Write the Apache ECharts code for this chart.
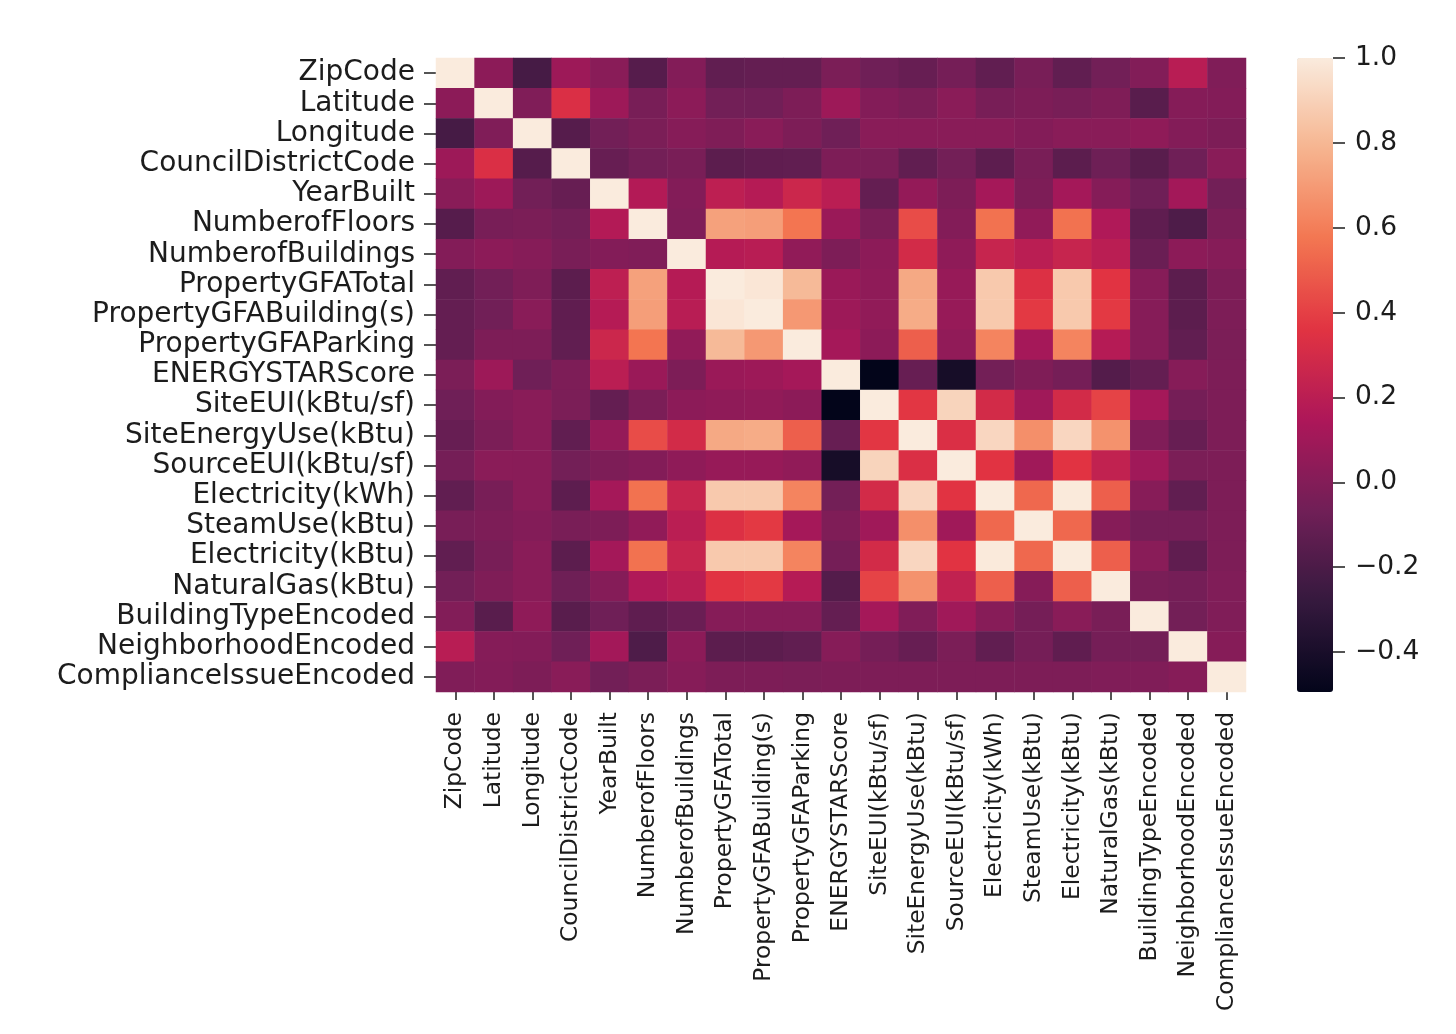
<!DOCTYPE html>
<html>
<head>
<meta charset="utf-8">
<style>html,body{margin:0;padding:0;background:#fff}#c{width:1456px;height:1034px}</style>
<script src="https://cdn.jsdelivr.net/npm/echarts@6/dist/echarts.min.js"></script>
</head>
<body>
<div id="c"></div>
<script>
const labels = ["ZipCode","Latitude","Longitude","CouncilDistrictCode","YearBuilt","NumberofFloors","NumberofBuildings","PropertyGFATotal","PropertyGFABuilding(s)","PropertyGFAParking","ENERGYSTARScore","SiteEUI(kBtu/sf)","SiteEnergyUse(kBtu)","SourceEUI(kBtu/sf)","Electricity(kWh)","SteamUse(kBtu)","Electricity(kBtu)","NaturalGas(kBtu)","BuildingTypeEncoded","NeighborhoodEncoded","ComplianceIssueEncoded"];
// Upper triangle of the correlation matrix, each row starts at the diagonal.
const row00 = [1,.03,-.22,.09,.02,-.16,0,-.12,-.11,-.11,-.03,-.07,-.10,-.05,-.12,-.04,-.12,-.06,-.005,.19,-.01];
const row01 = [1,-.01,.33,.09,-.04,.03,-.06,-.065,-.02,.09,0,-.03,.025,-.04,-.02,-.04,-.015,-.15,.005,0];
const row02 = [1,-.16,-.06,-.03,.01,-.015,.02,-.02,-.07,.02,.02,.02,.02,0,.02,.02,.04,0,-.02];
const row03 = [1,-.1,-.055,-.035,-.14,-.125,-.12,-.02,-.03,-.12,-.055,-.135,-.035,-.14,-.075,-.15,-.07,.02];
const row04 = [1,.17,0,.21,.18,.27,.2,-.11,.06,-.02,.12,-.02,.115,.005,-.07,.11,-.06];
const row05 = [1,-.01,.72,.71,.57,.08,-.03,.44,0,.56,.05,.56,.16,-.13,-.19,-.03];
const row06 = [1,.18,.19,.05,-.02,.03,.3,.04,.25,.2,.25,.2,-.09,.03,.01];
const row07 = [1,.98,.81,.08,.04,.75,.07,.87,.34,.87,.36,.01,-.14,-.02];
const row08 = [1,.69,.09,.05,.76,.07,.87,.38,.87,.38,.01,-.14,-.02];
const row09 = [1,.12,.03,.5,.05,.62,.12,.62,.18,.01,-.12,-.03];
const row10 = [1,-.494,-.1,-.41,-.055,-.015,-.05,-.17,-.11,.01,-.02];
const row11 = [1,.37,.91,.3,.1,.3,.41,.12,-.05,-.02];
const row12 = [1,.33,.92,.66,.92,.67,-.01,-.1,-.02];
const row13 = [1,.36,.1,.36,.23,.1,-.03,-.02];
const row14 = [1,.53,.995,.5,.015,-.12,-.02];
const row15 = [1,.53,.01,-.05,-.05,-.02];
const row16 = [1,.5,.02,-.125,-.02];
const row17 = [1,-.035,-.05,-.01];
const row18 = [1,-.055,-.01];
const row19 = [1,.01];
const row20 = [1];
const upperRows = [row00,row01,row02,row03,row04,row05,row06,row07,row08,row09,row10,row11,row12,row13,row14,row15,row16,row17,row18,row19,row20];
const colorbarTicks = [1,.8,.6,.4,.2,0,-.2,-.4];
const scaleMin = -0.494, scaleMax = 1;
const rocket = ["#03051a","#35193e","#701f57","#ad1759","#e13342","#f37651","#f6b48f","#faebdd"];

const cells = [];
upperRows.forEach((row, i) => row.forEach((v, k) => {
  const j = i + k;
  cells.push([j, i, v]);
  if (j !== i) cells.push([i, j, v]);
}));

const font = "DejaVu Sans", ink = "#1c1c1c";
const chart = echarts.init(document.getElementById("c"), null, {renderer: "canvas"});
chart.setOption({
  animation: false,
  backgroundColor: "#fff",
  grid: [
    {left: 436, top: 58, width: 810, height: 634},
    {left: 1297, top: 58, width: 36, height: 634}
  ],
  xAxis: [
    {type: "category", gridIndex: 0, data: labels, position: "bottom",
     axisLine: {show: false},
     axisTick: {show: true, alignWithLabel: true, length: 8, lineStyle: {color: ink, width: 1.5}},
     axisLabel: {rotate: 90, interval: 0, margin: 20, fontFamily: font, fontSize: 23.4, color: ink},
     splitLine: {show: false}},
    {type: "value", gridIndex: 1, min: 1, max: 2, show: false}
  ],
  yAxis: [
    {type: "category", gridIndex: 0, data: labels, inverse: true,
     axisLine: {show: false},
     axisTick: {show: true, alignWithLabel: true, length: 12, lineStyle: {color: ink, width: 1.5}},
     axisLabel: {interval: 0, margin: 21, fontFamily: font, fontSize: 28, color: ink, padding: [2, 0, 0, 0]},
     splitLine: {show: false}},
    {type: "value", gridIndex: 1, position: "right", min: scaleMin, max: scaleMax,
     axisLine: {show: false, onZero: false},
     axisTick: {show: true, length: 12, customValues: colorbarTicks, lineStyle: {color: ink, width: 1.5}},
     axisLabel: {margin: 22, fontFamily: font, fontSize: 26.5, color: ink, padding: [6, 0, 0, 0],
       customValues: colorbarTicks,
       formatter: v => (v < 0 ? "\u2212" : "") + Math.abs(v).toFixed(1)},
     splitLine: {show: false}}
  ],
  visualMap: {
    type: "continuous", seriesIndex: 0, dimension: 2, min: scaleMin, max: scaleMax,
    left: 1297, top: 58, itemWidth: 36, itemHeight: 634, padding: 0,
    calculable: false, realtime: false, text: null, showLabel: false,
    inRange: {color: rocket}, hoverLink: false
  },
  series: [{
    type: "heatmap", xAxisIndex: 0, yAxisIndex: 0, data: cells, progressive: 0,
    itemStyle: {borderWidth: 0}, emphasis: {disabled: true}
  }]
});
</script>
</body>
</html>
